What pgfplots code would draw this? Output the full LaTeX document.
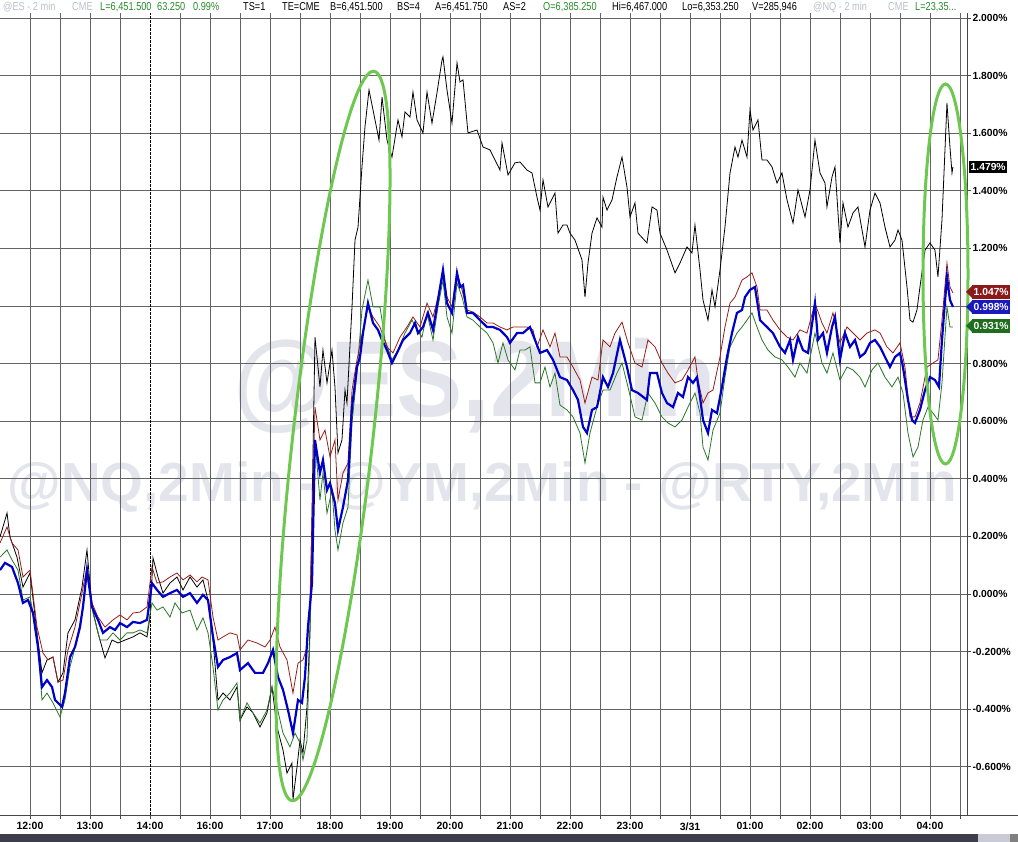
\documentclass[border=0pt]{standalone}
\usepackage{fontspec}
\setmainfont{Liberation Sans}
\newfontfamily\hdr[FakeStretch=0.8]{Liberation Sans}
\newfontfamily\wm[FakeStretch=0.92]{Liberation Sans}
\usepackage{pgfplots}
\pgfplotsset{compat=1.18}

\definecolor{gridgray}{RGB}{100,100,100}
\definecolor{axisgray}{RGB}{70,70,70}
\definecolor{hdrgray}{RGB}{185,190,200}
\definecolor{hdrgreen}{RGB}{40,140,40}
\definecolor{wmgray}{RGB}{228,229,236}
\definecolor{esblue}{RGB}{0,0,200}
\definecolor{ymred}{RGB}{150,30,25}
\definecolor{rtygreen}{RGB}{40,120,40}
\definecolor{ellgreen}{RGB}{110,200,80}
\definecolor{tagred}{RGB}{140,25,25}
\definecolor{tagblue}{RGB}{25,25,190}
\definecolor{taggreen}{RGB}{30,110,30}
\definecolor{scrolldark}{RGB}{60,63,75}
\definecolor{scrolllight}{RGB}{200,202,214}

\begin{document}
\begin{tikzpicture}
\path[use as bounding box] (0,0) rectangle (1018pt,842pt);

% watermarks
\node[anchor=base, text=wmgray, inner sep=0pt, font=\wm\bfseries\fontsize{108}{110}\selectfont] at (475pt,425pt) {@ES,2Min};
\node[anchor=base, text=wmgray, inner sep=0pt, font=\bfseries\fontsize{55}{60}\selectfont] at (482pt,340pt) {@NQ,2Min - @YM,2Min - @RTY,2Min};

\begin{axis}[
  at={(0pt,27pt)}, anchor=south west,
  scale only axis, width=967pt, height=802pt,
  xmin=-0.5, xmax=15.617, ymin=-0.7674, ymax=2.0174,
  axis x line*=bottom, axis y line*=right,
  axis line style={draw=axisgray, line width=0.9pt},
  xtick={0,1,3,4,5,6,7,8,9,10,11,12,13,14,15},
  xticklabels={12:00,13:00,16:00,17:00,18:00,19:00,20:00,21:00,22:00,23:00,3/31,01:00,02:00,03:00,04:00},
  minor xtick={0.5,1.5,2.5,3.5,4.5,5.5,6.5,7.5,8.5,9.5,10.5,11.5,12.5,13.5,14.5,15.5},
  extra x ticks={2}, extra x tick labels={14:00},
  extra x tick style={grid=major, major grid style={black, dash pattern=on 2.5pt off 1.5pt, line width=0.7pt}},
  ytick={-0.6,-0.4,-0.2,0,0.2,0.4,0.6,0.8,1.0,1.2,1.4,1.6,1.8,2.0},
  yticklabels={-0.600\%,-0.400\%,-0.200\%,0.000\%,0.200\%,0.400\%,0.600\%,0.800\%,1.000\%,1.200\%,1.400\%,1.600\%,1.800\%,2.000\%},
  grid=both,
  major grid style={gridgray, line width=0.8pt},
  minor grid style={gridgray, line width=0.8pt},
  tick align=outside, major tick length=4pt, minor tick length=4pt,
  tick style={axisgray, line width=0.8pt},
  ticklabel style={font=\bfseries\fontsize{10.3}{12}\selectfont},
  yticklabel style={xshift=-2pt},
  xticklabel style={font=\bfseries\fontsize{10.5}{12}\selectfont},
  no markers,
]
% NQ (black)
\addplot[black, line width=0.8pt] coordinates {
(-0.5,0.198) (-0.383,0.281) (-0.333,0.198) (-0.217,0.128) (-0.117,0.024) (0,0.073)
(0.117,-0.135) (0.2,-0.274) (0.283,-0.229) (0.383,-0.219) (0.467,-0.306) (0.55,-0.274)
(0.633,-0.135) (0.75,-0.090) (0.867,0.024) (0.95,0.153) (1.033,-0.045) (1.133,-0.135)
(1.25,-0.222) (1.367,-0.160) (1.467,-0.170) (1.583,-0.160) (1.717,-0.149) (1.833,-0.135)
(1.95,-0.149) (2.0,-0.080) (2.05,0.125) (2.133,0.059) (2.217,0.003) (2.333,0.038)
(2.45,0.059) (2.55,0.014) (2.667,0.059) (2.783,0.024) (2.883,0.049) (2.967,-0.021)
(3.05,-0.160) (3.133,-0.368) (3.217,-0.344) (3.333,-0.368) (3.45,-0.323) (3.5,-0.438)
(3.617,-0.392) (3.717,-0.413) (3.833,-0.462) (3.95,-0.413) (4.033,-0.323) (4.117,-0.462)
(4.217,-0.542) (4.283,-0.622) (4.367,-0.587) (4.383,-0.715) (4.45,-0.601) (4.5,-0.507)
(4.55,-0.552) (4.617,-0.392) (4.667,-0.115) (4.75,0.892) (4.833,0.719) (4.883,0.847)
(4.95,0.733) (5.033,0.847) (5.083,0.719) (5.133,0.490) (5.2,0.535) (5.25,0.708)
(5.283,0.663) (5.367,0.997) (5.417,1.229) (5.467,1.274) (5.533,1.483) (5.583,1.622)
(5.65,1.750) (5.717,1.681) (5.817,1.576) (5.867,1.726) (5.95,1.576) (6.033,1.517)
(6.133,1.646) (6.2,1.587) (6.25,1.674) (6.333,1.656) (6.383,1.743) (6.45,1.646)
(6.55,1.601) (6.617,1.743) (6.7,1.635) (6.783,1.740) (6.867,1.854) (6.883,1.865)
(6.95,1.750) (7.033,1.635) (7.117,1.844) (7.167,1.778) (7.217,1.785) (7.3,1.601)
(7.45,1.611) (7.55,1.552) (7.667,1.542) (7.75,1.507) (7.833,1.472) (7.867,1.566)
(7.967,1.455) (8.083,1.497) (8.167,1.5) (8.283,1.472) (8.367,1.462) (8.45,1.378)
(8.5,1.333) (8.55,1.438) (8.633,1.344) (8.75,1.392) (8.8,1.253) (8.883,1.281)
(8.95,1.281) (9.0,1.253) (9.083,1.229) (9.2,1.160) (9.25,1.031) (9.3,1.149)
(9.367,1.253) (9.45,1.306) (9.533,1.274) (9.55,1.378) (9.617,1.333) (9.7,1.368)
(9.783,1.448) (9.867,1.517) (9.95,1.413) (10.0,1.309) (10.083,1.358) (10.133,1.253)
(10.283,1.219) (10.367,1.344) (10.45,1.333) (10.5,1.253) (10.617,1.194) (10.75,1.115)
(10.833,1.149) (10.95,1.205) (11.033,1.184) (11.083,1.281) (11.167,1.125) (11.217,1.021)
(11.3,0.951) (11.367,1.056) (11.417,0.997) (11.5,1.125) (11.583,1.274) (11.667,1.462)
(11.75,1.552) (11.8,1.517) (11.867,1.576) (11.95,1.517) (12.0,1.681) (12.05,1.611)
(12.133,1.646) (12.2,1.507) (12.283,1.507) (12.367,1.483) (12.45,1.427) (12.533,1.462)
(12.617,1.368) (12.717,1.288) (12.8,1.403) (12.917,1.309) (13.0,1.403) (13.083,1.576)
(13.167,1.462) (13.25,1.427) (13.283,1.344) (13.367,1.448) (13.417,1.483) (13.5,1.219)
(13.55,1.358) (13.633,1.274) (13.717,1.323) (13.8,1.344) (13.917,1.205) (14.0,1.333)
(14.083,1.392) (14.167,1.358) (14.25,1.274) (14.333,1.205) (14.417,1.229) (14.467,1.264)
(14.533,1.229) (14.617,1.066) (14.667,0.951) (14.717,0.944) (14.783,0.986) (14.833,1.066)
(14.917,1.194) (15.0,1.219) (15.083,1.194) (15.133,1.101) (15.2,1.299) (15.25,1.542)
(15.283,1.705) (15.333,1.552) (15.367,1.462) (15.383,1.483)
};
% RTY (green)
\addplot[rtygreen, line width=0.8pt] coordinates {
(-0.5,0.128) (-0.383,0.153) (-0.3,0.118) (-0.2,0.083) (-0.117,-0.021) (0,-0.010)
(0.117,-0.135) (0.2,-0.368) (0.283,-0.344) (0.383,-0.378) (0.5,-0.427) (0.583,-0.368)
(0.667,-0.253) (0.783,-0.160) (0.883,-0.045) (0.95,0.073) (1.05,-0.066) (1.167,-0.160)
(1.283,-0.160) (1.383,-0.135) (1.5,-0.160) (1.617,-0.135) (1.717,-0.135) (1.833,-0.125)
(1.95,-0.135) (2.033,-0.031) (2.117,-0.056) (2.217,-0.045) (2.333,-0.080) (2.417,-0.031)
(2.533,-0.066) (2.667,-0.056) (2.783,-0.125) (2.883,-0.083) (2.967,-0.135) (3.05,-0.253)
(3.133,-0.403) (3.217,-0.368) (3.333,-0.344) (3.45,-0.309) (3.5,-0.438) (3.617,-0.378)
(3.717,-0.413) (3.833,-0.448) (3.95,-0.403) (4.033,-0.323) (4.117,-0.392) (4.217,-0.483)
(4.333,-0.531) (4.417,-0.483) (4.5,-0.517) (4.55,-0.576) (4.617,-0.507) (4.667,-0.135)
(4.75,0.535) (4.833,0.326) (4.883,0.420) (4.95,0.281) (5.033,0.361) (5.083,0.222)
(5.133,0.153) (5.217,0.247) (5.3,0.302) (5.367,0.594) (5.45,0.767) (5.533,0.986)
(5.633,1.090) (5.717,0.997) (5.833,0.997) (5.917,0.882) (6.033,0.813) (6.133,0.847)
(6.25,0.906) (6.367,0.951) (6.45,0.917) (6.533,0.892) (6.617,0.976) (6.717,0.882)
(6.8,0.997) (6.883,1.090) (6.95,0.962) (7.033,0.906) (7.117,1.080) (7.2,1.031)
(7.283,0.962) (7.383,0.951) (7.5,0.927) (7.617,0.906) (7.717,0.872) (7.8,0.802)
(7.883,0.872) (7.967,0.813) (8.083,0.778) (8.167,0.847) (8.25,0.847) (8.333,0.858)
(8.417,0.733) (8.5,0.733) (8.583,0.788) (8.667,0.719) (8.75,0.767) (8.833,0.656)
(8.95,0.639) (9.05,0.615) (9.167,0.559) (9.25,0.455) (9.333,0.559) (9.45,0.649)
(9.55,0.708) (9.667,0.708) (9.783,0.767) (9.867,0.802) (9.967,0.719) (10.083,0.615)
(10.2,0.604) (10.3,0.698) (10.417,0.663) (10.533,0.615) (10.633,0.594) (10.75,0.580)
(10.867,0.604) (10.967,0.649) (11.083,0.698) (11.167,0.628) (11.217,0.510) (11.3,0.465)
(11.383,0.569) (11.5,0.628) (11.583,0.753) (11.667,0.858) (11.783,0.906) (11.867,0.927)
(11.95,0.951) (12.033,0.976) (12.117,0.927) (12.2,0.882) (12.3,0.847) (12.417,0.823)
(12.533,0.813) (12.633,0.788) (12.75,0.753) (12.833,0.802) (12.95,0.767) (13.083,0.906)
(13.2,0.802) (13.283,0.767) (13.383,0.837) (13.5,0.743) (13.617,0.788) (13.717,0.778)
(13.833,0.753) (13.917,0.719) (14.033,0.778) (14.133,0.802) (14.25,0.753) (14.367,0.719)
(14.467,0.753) (14.55,0.698) (14.633,0.559) (14.717,0.476) (14.8,0.510) (14.883,0.604)
(14.967,0.649) (15.05,0.628) (15.133,0.604) (15.2,0.733) (15.283,0.997) (15.333,0.927)
(15.383,0.927)
};
% YM (dark red)
\addplot[ymred, line width=0.8pt] coordinates {
(-0.5,0.177) (-0.383,0.233) (-0.3,0.177) (-0.2,0.153) (-0.117,0.059) (0,0.083)
(0.117,-0.115) (0.217,-0.205) (0.3,-0.229) (0.383,-0.219) (0.467,-0.306) (0.55,-0.299)
(0.633,-0.194) (0.75,-0.115) (0.867,0.003) (0.95,0.094) (1.033,-0.031) (1.133,-0.080)
(1.25,-0.115) (1.383,-0.090) (1.5,-0.073) (1.617,-0.090) (1.717,-0.066) (1.833,-0.063)
(1.95,-0.045) (2.033,0.094) (2.117,0.038) (2.217,0.042) (2.333,0.059) (2.45,0.073)
(2.55,0.049) (2.667,0.066) (2.783,0.042) (2.867,0.059) (2.967,0.049) (3.05,-0.080)
(3.133,-0.160) (3.217,-0.149) (3.333,-0.135) (3.45,-0.142) (3.5,-0.194) (3.633,-0.160)
(3.783,-0.170) (3.917,-0.184) (4.0,-0.160) (4.083,-0.115) (4.167,-0.184) (4.283,-0.229)
(4.383,-0.344) (4.467,-0.240) (4.55,-0.229) (4.617,-0.184) (4.667,-0.021) (4.75,0.649)
(4.833,0.535) (4.917,0.569) (5.0,0.476) (5.083,0.535) (5.133,0.326) (5.217,0.420)
(5.3,0.455) (5.367,0.708) (5.45,0.813) (5.55,0.917) (5.633,0.997) (5.717,0.962)
(5.833,0.927) (5.95,0.858) (6.05,0.837) (6.167,0.892) (6.283,0.927) (6.383,0.962)
(6.5,0.927) (6.617,1.010) (6.717,0.962) (6.8,1.031) (6.883,1.115) (6.95,1.031)
(7.033,0.997) (7.117,1.115) (7.2,1.056) (7.283,0.986) (7.383,0.979) (7.5,0.962)
(7.617,0.941) (7.717,0.941) (7.833,0.927) (7.95,0.917) (8.05,0.927) (8.167,0.927)
(8.283,0.927) (8.383,0.917) (8.45,0.858) (8.55,0.917) (8.667,0.858) (8.75,0.906)
(8.833,0.823) (8.95,0.823) (9.05,0.788) (9.167,0.743) (9.25,0.663) (9.367,0.753)
(9.467,0.743) (9.55,0.882) (9.667,0.858) (9.75,0.906) (9.867,0.944) (9.967,0.872)
(10.083,0.802) (10.2,0.788) (10.3,0.882) (10.417,0.858) (10.533,0.802) (10.633,0.767)
(10.75,0.733) (10.867,0.743) (10.967,0.778) (11.083,0.823) (11.133,0.743) (11.217,0.663)
(11.3,0.698) (11.383,0.708) (11.5,0.823) (11.583,0.927) (11.667,1.010) (11.75,1.031)
(11.867,1.090) (11.95,1.101) (12.033,1.115) (12.117,1.066) (12.167,0.986) (12.283,0.986)
(12.383,0.951) (12.5,0.917) (12.617,0.892) (12.717,0.882) (12.833,0.917) (12.95,0.906)
(13.083,1.010) (13.2,0.941) (13.283,0.906) (13.383,0.976) (13.5,0.872) (13.617,0.927)
(13.717,0.906) (13.833,0.882) (13.95,0.906) (14.083,0.917) (14.167,0.906) (14.283,0.858)
(14.383,0.837) (14.5,0.872) (14.583,0.788) (14.667,0.615) (14.75,0.615) (14.833,0.663)
(14.95,0.788) (15.05,0.802) (15.133,0.813) (15.2,0.951) (15.283,1.149) (15.333,1.066)
(15.383,1.045)
};
% ES (blue)
\addplot[esblue, line width=2.2pt] coordinates {
(-0.5,0.083) (-0.417,0.108) (-0.3,0.094) (-0.2,0.038) (-0.117,-0.031) (-0.033,-0.021)
(0.05,-0.066) (0.133,-0.184) (0.2,-0.323) (0.283,-0.299) (0.367,-0.323) (0.417,-0.368)
(0.533,-0.392) (0.583,-0.344) (0.667,-0.219) (0.75,-0.184) (0.833,-0.115) (0.883,-0.045)
(0.95,0.083) (1.033,-0.045) (1.133,-0.090) (1.217,-0.135) (1.333,-0.115) (1.417,-0.125)
(1.5,-0.101) (1.617,-0.115) (1.717,-0.097) (1.833,-0.101) (1.95,-0.090) (2.033,0.038)
(2.117,0.014) (2.217,-0.010) (2.333,0.003) (2.45,0.014) (2.55,-0.010) (2.667,0.003)
(2.783,-0.031) (2.883,-0.003) (2.967,-0.021) (3.05,-0.149) (3.133,-0.253) (3.217,-0.229)
(3.333,-0.219) (3.45,-0.205) (3.5,-0.264) (3.633,-0.240) (3.75,-0.274) (3.883,-0.274)
(3.967,-0.240) (4.05,-0.194) (4.133,-0.288) (4.217,-0.333) (4.3,-0.403) (4.383,-0.483)
(4.467,-0.368) (4.533,-0.378) (4.583,-0.288) (4.633,-0.115) (4.7,0.038) (4.75,0.535)
(4.833,0.420) (4.883,0.465) (4.95,0.361) (5.0,0.385) (5.083,0.316) (5.133,0.222)
(5.217,0.302) (5.3,0.396) (5.367,0.649) (5.45,0.788) (5.5,0.823) (5.55,0.906)
(5.633,1.010) (5.717,0.941) (5.8,0.917) (5.867,0.882) (5.95,0.847) (6.033,0.802)
(6.117,0.837) (6.217,0.882) (6.333,0.906) (6.417,0.941) (6.467,0.906) (6.55,0.927)
(6.633,0.976) (6.717,0.917) (6.8,1.021) (6.883,1.125) (6.95,1.010) (7.033,0.976)
(7.117,1.115) (7.167,1.066) (7.217,1.073) (7.283,0.976) (7.383,0.976) (7.5,0.951)
(7.617,0.927) (7.717,0.927) (7.833,0.917) (7.95,0.892) (8.0,0.872) (8.117,0.906)
(8.217,0.906) (8.333,0.927) (8.417,0.882) (8.5,0.837) (8.617,0.847) (8.717,0.813)
(8.833,0.753) (8.95,0.743) (9.05,0.708) (9.133,0.674) (9.217,0.580) (9.283,0.559)
(9.367,0.639) (9.45,0.649) (9.55,0.753) (9.633,0.719) (9.717,0.767) (9.833,0.882)
(9.95,0.788) (10.033,0.708) (10.133,0.698) (10.283,0.674) (10.333,0.767) (10.45,0.767)
(10.533,0.698) (10.617,0.663) (10.717,0.649) (10.8,0.698) (10.883,0.684) (10.967,0.753)
(11.05,0.733) (11.117,0.753) (11.167,0.684) (11.217,0.604) (11.3,0.559) (11.367,0.639)
(11.45,0.628) (11.533,0.719) (11.617,0.823) (11.7,0.906) (11.783,0.976) (11.867,0.986)
(11.917,1.031) (12.0,1.056) (12.083,1.066) (12.167,0.951) (12.283,0.927) (12.383,0.906)
(12.5,0.858) (12.583,0.837) (12.667,0.882) (12.717,0.813) (12.8,0.892) (12.883,0.847)
(12.967,0.837) (13.083,1.010) (13.133,0.882) (13.217,0.906) (13.283,0.837) (13.367,0.927)
(13.417,0.962) (13.5,0.813) (13.583,0.906) (13.667,0.858) (13.75,0.882) (13.833,0.823)
(13.917,0.837) (14.0,0.872) (14.083,0.882) (14.167,0.858) (14.25,0.823) (14.333,0.788)
(14.417,0.823) (14.5,0.837) (14.55,0.788) (14.633,0.674) (14.7,0.604) (14.75,0.594)
(14.833,0.639) (14.917,0.708) (15.0,0.753) (15.083,0.743) (15.15,0.719) (15.2,0.882)
(15.283,1.101) (15.333,1.021) (15.383,0.997)
};
\end{axis}

% x axis line continues past the price scale
\draw[axisgray, line width=0.9pt] (967pt,27pt) -- (1018pt,27pt);

% annotations
\draw[ellgreen, line width=3pt, rotate around={-6.4:(333pt,406pt)}] (333pt,406pt) ellipse [x radius=40pt, y radius=367pt];
\draw[ellgreen, line width=3pt] (945.5pt,568pt) ellipse [x radius=22.5pt, y radius=190pt];

% last-value tags
\node[fill=black, text=white, anchor=west, inner xsep=1.5pt, inner ysep=2pt, font=\bfseries\fontsize{10.3}{12}\selectfont] at (969pt,675pt) {1.479\%};
\begin{scope}[every node/.style={text=white, anchor=west, inner xsep=1.5pt, inner ysep=2pt, font=\bfseries\fontsize{10.3}{12}\selectfont, minimum height=14pt}]
\fill[tagred] (966pt,550pt) -- (973pt,557pt) -- (973pt,543pt) -- cycle;
\node[fill=tagred] at (972pt,550pt) {1.047\%};
\fill[tagblue] (966pt,535pt) -- (973pt,542pt) -- (973pt,528pt) -- cycle;
\node[fill=tagblue] at (972pt,535pt) {0.998\%};
\fill[taggreen] (966pt,516pt) -- (973pt,523pt) -- (973pt,509pt) -- cycle;
\node[fill=taggreen] at (972pt,516pt) {0.931\%};
\end{scope}

% header line
\begin{scope}[every node/.style={anchor=base west, inner sep=0pt, font=\hdr\fontsize{11.5}{13}\selectfont}]
\node[text=hdrgray] at (3pt,831pt) {@ES - 2 min};
\node[text=hdrgray] at (72pt,831pt) {CME};
\node[text=hdrgreen] at (100pt,831pt) {L=6,451.500};
\node[text=hdrgreen] at (157pt,831pt) {63.250};
\node[text=hdrgreen] at (193pt,831pt) {0.99\%};
\node at (243pt,831pt) {TS=1};
\node at (282pt,831pt) {TE=CME};
\node at (330pt,831pt) {B=6,451.500};
\node at (397pt,831pt) {BS=4};
\node at (435pt,831pt) {A=6,451.750};
\node at (503pt,831pt) {AS=2};
\node[text=hdrgreen] at (543pt,831pt) {O=6,385.250};
\node at (612pt,831pt) {Hi=6,467.000};
\node at (682pt,831pt) {Lo=6,353.250};
\node at (752pt,831pt) {V=285,946};
\node[text=hdrgray] at (813pt,831pt) {@NQ - 2 min};
\node[text=hdrgray] at (888pt,831pt) {CME};
\node[text=hdrgreen] at (915pt,831pt) {L=23,35...};
\end{scope}

% scrollbar
\fill[scrolldark] (0,0) rectangle (978pt,8pt);
\fill[scrolllight] (978pt,0) rectangle (1010pt,8pt);
\fill[gray] (1010pt,0) rectangle (1018pt,8pt);
\end{tikzpicture}
\end{document}
